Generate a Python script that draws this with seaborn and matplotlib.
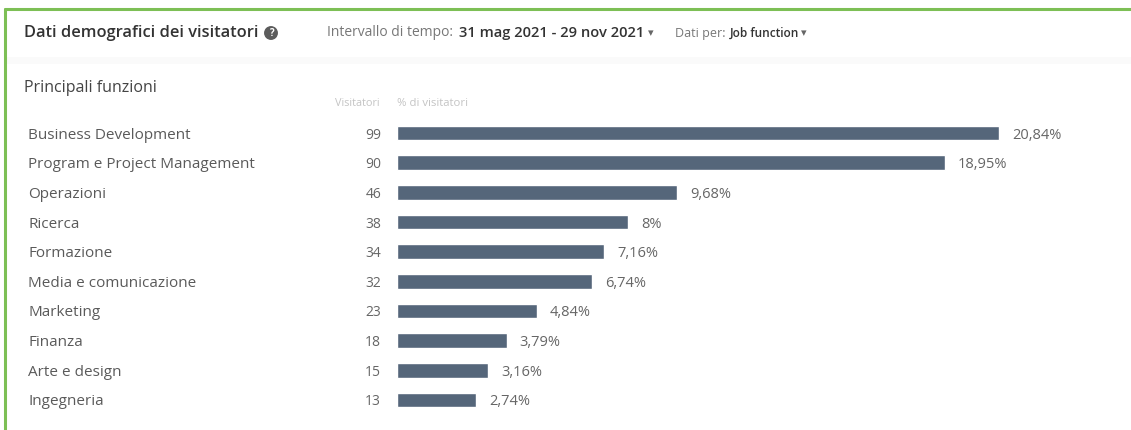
import matplotlib
matplotlib.use("Agg")
import matplotlib.pyplot as plt
import matplotlib.transforms as mtransforms
from matplotlib.lines import Line2D
from matplotlib.patches import Rectangle
import seaborn as sns
import pandas as pd

# ---- data ----
categories = ["Business Development", "Program e Project Management", "Operazioni",
              "Ricerca", "Formazione", "Media e comunicazione", "Marketing",
              "Finanza", "Arte e design", "Ingegneria"]
visitors = [99, 90, 46, 38, 34, 32, 23, 18, 15, 13]
percent = [20.84, 18.95, 9.68, 8, 7.16, 6.74, 4.84, 3.79, 3.16, 2.74]
percent_labels = ["20,84%", "18,95%", "9,68%", "8%", "7,16%", "6,74%",
                  "4,84%", "3,79%", "3,16%", "2,74%"]

title = "Dati demografici dei visitatori"
range_label = "Intervallo di tempo:"
range_value = "31 mag 2021 - 29 nov 2021"
by_label = "Dati per:"
by_value = "Job function"
section = "Principali funzioni"
col_count = "Visitatori"
col_pct = "% di visitatori"

df = pd.DataFrame({"cat": categories, "pct": percent, "vis": visitors})

sns.set_theme(style="white")
plt.rcParams["font.family"] = ["Open Sans", "DejaVu Sans"]

W, H = 1131, 430
fig = plt.figure(figsize=(W / 100, H / 100), dpi=100)
fig.patch.set_facecolor("white")

def fx(px):
    return px / W

def fy(py):
    return 1 - py / H

# Frame: green top and left borders
green = "#7dbf55"
fig.add_artist(Line2D([fx(5), 1], [fy(8.5), fy(8.5)], color=green, lw=2.2))
fig.add_artist(Line2D([fx(5), fx(5)], [fy(8.5), 0], color=green, lw=2.2))
# Header separator (subtle shading)
fig.add_artist(Rectangle((fx(6), fy(64)), 1 - fx(6), (64 - 57) / H,
                         facecolor="#fafafa", edgecolor="none"))

# Header texts
fig.text(fx(24), fy(33), title, fontsize=11.8, color="#333333", va="center",
         ha="left", fontweight="semibold")
fig.text(fx(271), fy(33), "?", fontsize=7, color="white", va="center", ha="center",
         fontweight="bold",
         bbox=dict(boxstyle="circle,pad=0.15", fc="#5c5c5c", ec="none"))
fig.text(fx(327), fy(33), range_label, fontsize=10, color="#777777", va="center", ha="left")
fig.text(fx(459), fy(33), range_value, fontsize=10.6, color="#333333", va="center",
         ha="left", fontweight="semibold")
fig.text(fx(651), fy(33), "\u25BE", fontsize=8, color="#666666", va="center", ha="center",
         family=["DejaVu Sans"])
fig.text(fx(675), fy(33), by_label, fontsize=9, color="#777777", va="center", ha="left")
fig.text(fx(730), fy(33), by_value, fontsize=8.6, color="#333333", va="center",
         ha="left", fontweight="semibold")
fig.text(fx(804), fy(33), "\u25BE", fontsize=8, color="#666666", va="center", ha="center",
         family=["DejaVu Sans"])

fig.text(fx(24), fy(88), section, fontsize=11.5, color="#444444", va="center", ha="left")
fig.text(fx(380), fy(104), col_count, fontsize=7.8, color="#c4c4c4", va="center", ha="right")
fig.text(fx(397), fy(104), col_pct, fontsize=8.2, color="#c4c4c4", va="center", ha="left")

# Bar axes: rows centered at y=133..400, 28.9 px per percent starting at x=397
row_step = (400 - 133) / 9
top_px = 133 - row_step / 2
bot_px = 400 + row_step / 2
xmax = 24
ax = fig.add_axes([fx(397), fy(bot_px), xmax * 28.9 / W, (bot_px - top_px) / H])
sns.barplot(data=df, x="pct", y="cat", orient="h", color="#55667a",
            width=0.5, ax=ax, saturation=1)
ax.set_xlim(0, xmax)
ax.set_ylim(len(categories) - 0.5, -0.5)
ax.axis("off")

trans_lab = mtransforms.blended_transform_factory(fig.transFigure, ax.transData)
for i, (c, v, p, pl) in enumerate(zip(categories, visitors, percent, percent_labels)):
    ax.text(fx(28), i, c, transform=trans_lab, fontsize=11, color="#5a5a5a",
            va="center_baseline", ha="left")
    ax.text(fx(381), i, str(v), transform=trans_lab, fontsize=10, color="#666666",
            va="center_baseline", ha="right")
    ax.annotate(pl, xy=(p, i), xytext=(9.5, 0), textcoords="offset points",
                fontsize=10.5, color="#666666", va="center_baseline", ha="left")

fig.savefig("out.png", dpi=100, facecolor="white")
